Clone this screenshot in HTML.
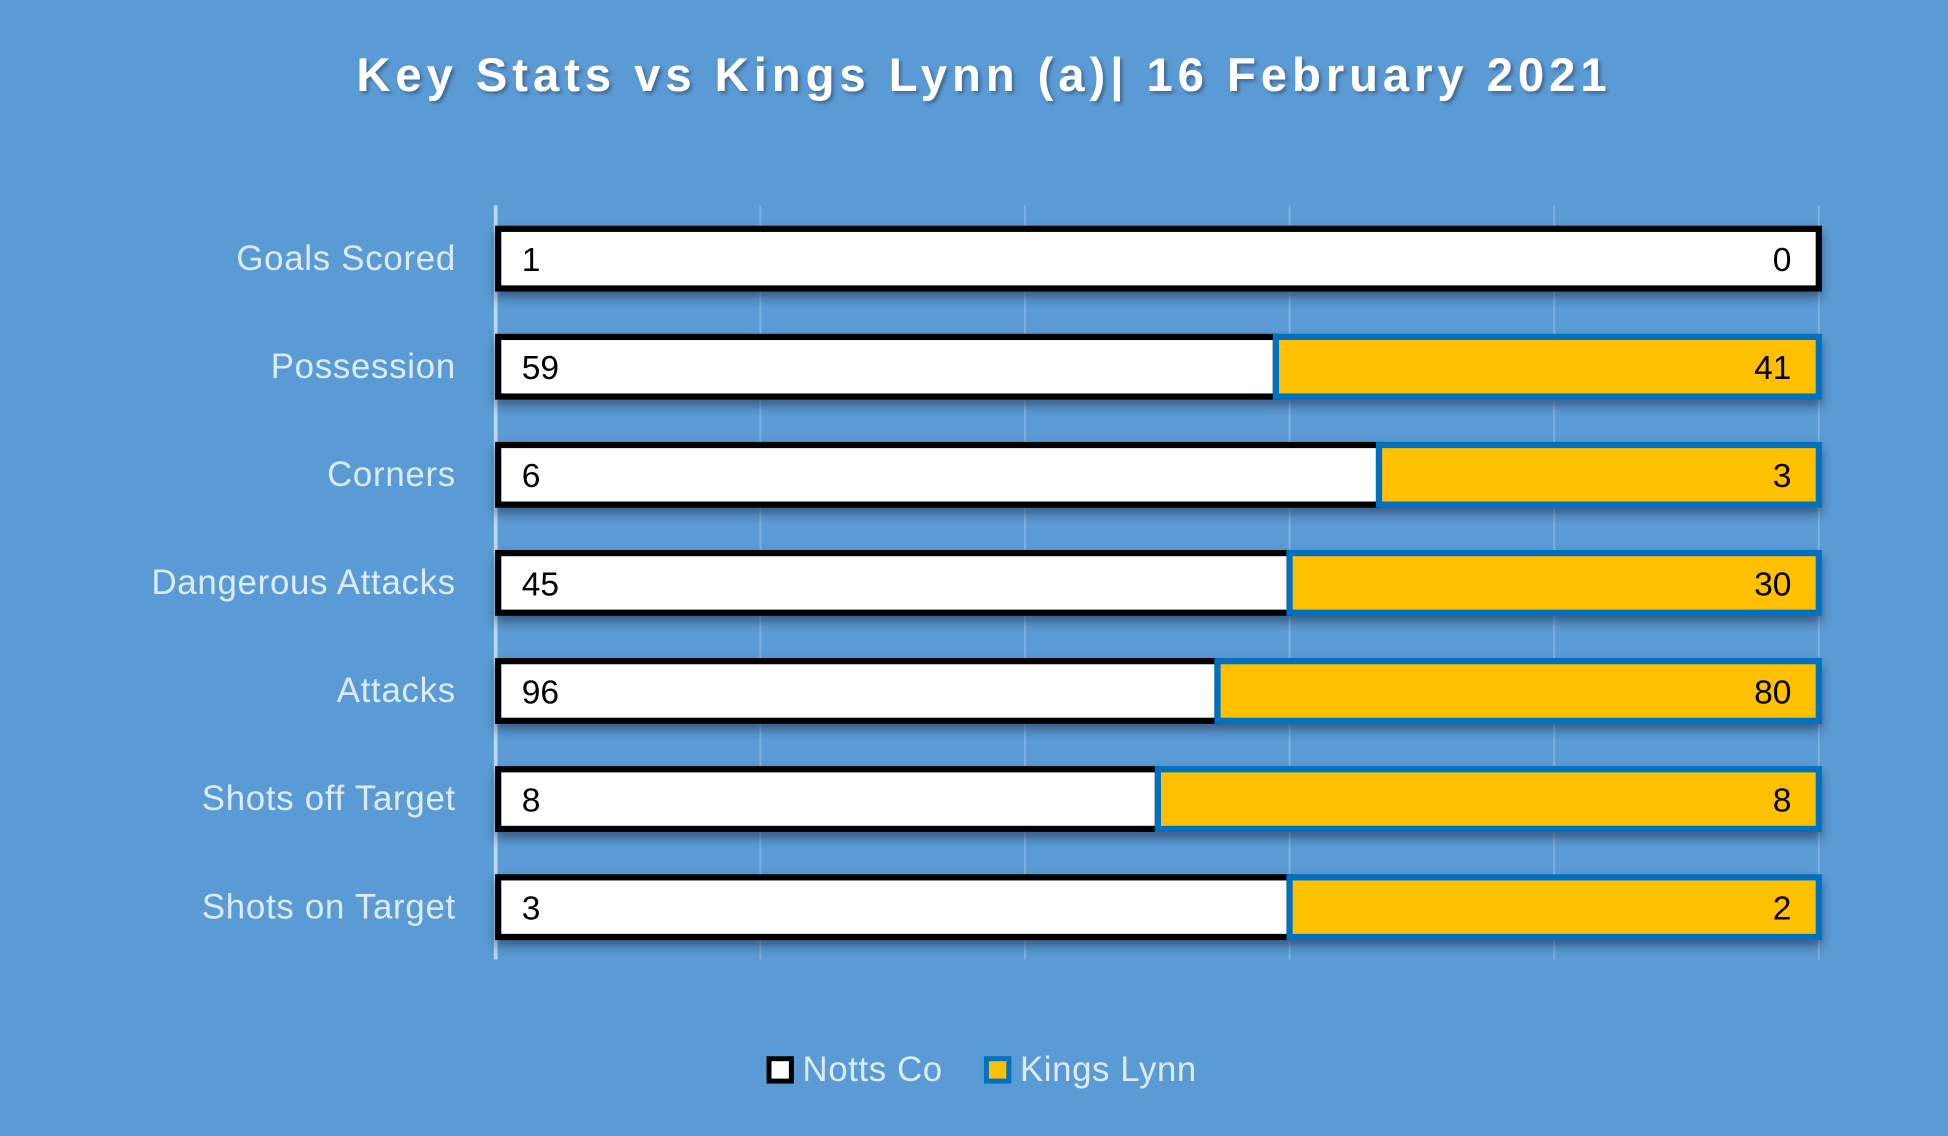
<!DOCTYPE html>
<html><head><style>
html,body{margin:0;padding:0;background:#5B9BD5;}
svg{display:block;}
text{font-family:"Liberation Sans",sans-serif;}
</style></head><body>
<svg width="1948" height="1136" viewBox="0 0 1568 914" xmlns="http://www.w3.org/2000/svg">
<defs>
<filter id="sh" x="-5%" y="-30%" width="110%" height="180%">
<feDropShadow dx="0" dy="5" stdDeviation="4" flood-color="#1a3550" flood-opacity="0.6"/>
</filter>
<filter id="ts"><feDropShadow dx="2" dy="2" stdDeviation="1.5" flood-color="#2a4a6a" flood-opacity="0.6"/></filter>
</defs>
<rect width="1568" height="914" fill="#5B9BD5"/>
<text x="792" y="73" text-anchor="middle" fill="#fff" font-size="38" font-weight="bold" letter-spacing="4" filter="url(#ts)">Key Stats vs Kings Lynn (a)| 16 February 2021</text>
<g stroke="#7FB2E0" stroke-width="1.5">
<line x1="612" y1="165" x2="612" y2="772"/><line x1="825" y1="165" x2="825" y2="772"/>
<line x1="1038" y1="165" x2="1038" y2="772"/><line x1="1251" y1="165" x2="1251" y2="772"/>
<line x1="1464" y1="165" x2="1464" y2="772"/>
</g>
<line x1="399" y1="165" x2="399" y2="772" stroke="#BDD7EE" stroke-width="3"/>
<g font-size="28" fill="#DDEBF7" text-anchor="end" letter-spacing="0.6">
<text x="367" y="217">Goals Scored</text>
<text x="367" y="304">Possession</text>
<text x="367" y="391">Corners</text>
<text x="367" y="478">Dangerous Attacks</text>
<text x="367" y="565">Attacks</text>
<text x="367" y="652">Shots off Target</text>
<text x="367" y="739">Shots on Target</text>
</g>
<g filter="url(#sh)">
<rect x="401" y="184" width="1063" height="48" fill="#fff" stroke="#000" stroke-width="5"/>
<rect x="401" y="271" width="626" height="48" fill="#fff" stroke="#000" stroke-width="5"/>
<rect x="1027" y="271" width="437" height="48" fill="#FFC000" stroke="#0070C0" stroke-width="5"/>
<rect x="401" y="358" width="709" height="48" fill="#fff" stroke="#000" stroke-width="5"/>
<rect x="1110" y="358" width="354" height="48" fill="#FFC000" stroke="#0070C0" stroke-width="5"/>
<rect x="401" y="445" width="637" height="48" fill="#fff" stroke="#000" stroke-width="5"/>
<rect x="1038" y="445" width="426" height="48" fill="#FFC000" stroke="#0070C0" stroke-width="5"/>
<rect x="401" y="532" width="579" height="48" fill="#fff" stroke="#000" stroke-width="5"/>
<rect x="980" y="532" width="484" height="48" fill="#FFC000" stroke="#0070C0" stroke-width="5"/>
<rect x="401" y="619" width="531" height="48" fill="#fff" stroke="#000" stroke-width="5"/>
<rect x="932" y="619" width="532" height="48" fill="#FFC000" stroke="#0070C0" stroke-width="5"/>
<rect x="401" y="706" width="637" height="48" fill="#fff" stroke="#000" stroke-width="5"/>
<rect x="1038" y="706" width="426" height="48" fill="#FFC000" stroke="#0070C0" stroke-width="5"/>
</g>
<g font-size="27" fill="#000">
<text x="420" y="218">1</text><text x="1442" y="218" text-anchor="end">0</text>
<text x="420" y="305">59</text><text x="1442" y="305" text-anchor="end">41</text>
<text x="420" y="392">6</text><text x="1442" y="392" text-anchor="end">3</text>
<text x="420" y="479">45</text><text x="1442" y="479" text-anchor="end">30</text>
<text x="420" y="566">96</text><text x="1442" y="566" text-anchor="end">80</text>
<text x="420" y="653">8</text><text x="1442" y="653" text-anchor="end">8</text>
<text x="420" y="740">3</text><text x="1442" y="740" text-anchor="end">2</text>
</g>
<rect x="619" y="852" width="18" height="18" fill="#fff" stroke="#000" stroke-width="4"/>
<text x="646" y="870" font-size="28" fill="#DDEBF7" letter-spacing="0.5">Notts Co</text>
<rect x="794" y="852" width="18" height="18" fill="#FFC000" stroke="#0070C0" stroke-width="4"/>
<text x="821" y="870" font-size="28" fill="#DDEBF7" letter-spacing="0.5">Kings Lynn</text>
</svg>
</body></html>
